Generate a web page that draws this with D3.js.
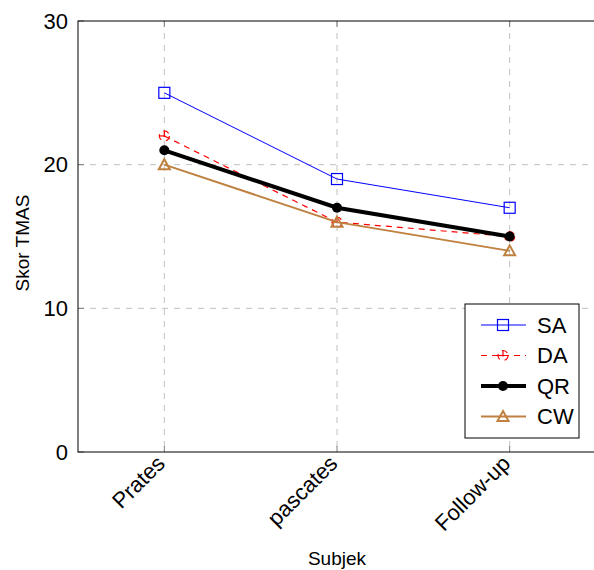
<!DOCTYPE html>
<html>
<head>
<meta charset="utf-8">
<script src="https://cdn.jsdelivr.net/npm/d3@7/dist/d3.min.js"></script>
<style>
  body { margin: 0; background: #fff; }
  svg { font-family: "Liberation Sans", Arial, sans-serif; }
</style>
</head>
<body>
<div id="chart"></div>
<script>
const categories = ["Prates", "pascates", "Follow-up"];
const yTicks = [0, 10, 20, 30];
const seriesNames = ["SA", "DA", "QR", "CW"];
const saValues = [25, 19, 17];
const daValues = [22, 16, 15];
const qrValues = [21, 17, 15];
const cwValues = [20, 16, 14];

const series = [
    { name: "SA", values: saValues, color: "#0000ff", width: 1, dash: null, marker: "square" },
    { name: "DA", values: daValues, color: "#ff0000", width: 1.2, dash: "6,5", marker: "oplus" },
    { name: "QR", values: qrValues, color: "#000000", width: 4, dash: null, marker: "dot" },
    { name: "CW", values: cwValues, color: "#bf8040", width: 2, dash: null, marker: "triangle" }
];

const W = 594, H = 570;
const margin = { top: 21, right: -2, bottom: 118, left: 78 };
const width = W - margin.left - margin.right,
    height = H - margin.top - margin.bottom;

const svg = d3.select("#chart").append("svg")
    .attr("width", W).attr("height", H);

const chart = svg.append("g")
    .attr("transform", `translate(${margin.left},${margin.top})`);

const x = d3.scalePoint().domain(categories).range([0, width]).padding(0.5);
const y = d3.scaleLinear().domain([0, 30]).range([height, 0]);

// grid
chart.selectAll(".vgrid").data(categories).enter().append("line")
    .attr("x1", d => x(d)).attr("x2", d => x(d))
    .attr("y1", 0).attr("y2", height)
    .attr("stroke", "#c0c0c0").attr("stroke-dasharray", "6,6");
chart.selectAll(".hgrid").data(yTicks.filter(t => t > 0 && t < 30)).enter().append("line")
    .attr("x1", 0).attr("x2", width)
    .attr("y1", d => y(d)).attr("y2", d => y(d))
    .attr("stroke", "#c0c0c0").attr("stroke-dasharray", "6,6");

// inner ticks
chart.selectAll(".tb").data(categories).enter().append("line")
    .attr("x1", d => x(d)).attr("x2", d => x(d))
    .attr("y1", height).attr("y2", height - 6)
    .attr("stroke", "#808080");
chart.selectAll(".tt").data(categories).enter().append("line")
    .attr("x1", d => x(d)).attr("x2", d => x(d))
    .attr("y1", 0).attr("y2", 6)
    .attr("stroke", "#808080");
chart.selectAll(".tl").data(yTicks).enter().append("line")
    .attr("x1", 0).attr("x2", 6)
    .attr("y1", d => y(d)).attr("y2", d => y(d))
    .attr("stroke", "#808080");

// frame
chart.append("rect")
    .attr("x", 0).attr("y", 0).attr("width", width).attr("height", height)
    .attr("fill", "none").attr("stroke", "#000").attr("stroke-width", 1);

// tick labels
chart.selectAll(".ylab").data(yTicks).enter().append("text")
    .attr("x", -10).attr("y", d => y(d)).attr("dy", "0.35em")
    .attr("text-anchor", "end").style("font-size", "22px")
    .text(d => d);

chart.selectAll(".xlab").data(categories).enter().append("text")
    .attr("transform", d => `translate(${x(d) - 9},${height + 2}) rotate(-45)`)
    .attr("text-anchor", "end").attr("dy", "0.7em")
    .style("font-size", "22px")
    .text(d => d);

// axis titles
svg.append("text")
    .attr("x", margin.left + x("pascates")).attr("y", 565)
    .attr("text-anchor", "middle").style("font-size", "19px")
    .text("Subjek");
svg.append("text")
    .attr("transform", `translate(29,243) rotate(-90)`)
    .attr("text-anchor", "middle").style("font-size", "19px")
    .text("Skor TMAS");

function drawMarker(g, type, color, cx, cy) {
    if (type === "square") {
        g.append("rect").attr("x", cx - 5.5).attr("y", cy - 5.5).attr("width", 11).attr("height", 11)
            .attr("fill", "none").attr("stroke", color).attr("stroke-width", 1.2);
    } else if (type === "oplus") {
        const m = g.append("g").attr("stroke", color).attr("fill", "none")
            .attr("stroke-width", 1.2).attr("stroke-dasharray", "6,5");
        m.append("circle").attr("cx", cx).attr("cy", cy).attr("r", 5);
        m.append("line").attr("x1", cx - 5).attr("x2", cx + 5).attr("y1", cy).attr("y2", cy);
        m.append("line").attr("x1", cx).attr("x2", cx).attr("y1", cy - 5).attr("y2", cy + 5);
    } else if (type === "dot") {
        g.append("circle").attr("cx", cx).attr("cy", cy).attr("r", 5).attr("fill", color);
    } else if (type === "triangle") {
        g.append("path")
            .attr("d", `M${cx},${cy - 5.5}L${cx + 5.5},${cy + 4.5}L${cx - 5.5},${cy + 4.5}Z`)
            .attr("fill", "none").attr("stroke", color).attr("stroke-width", 2);
    }
}

const line = d3.line().x((d, i) => x(categories[i])).y(d => y(d));

series.forEach(s => {
    const g = chart.append("g");
    g.append("path").datum(s.values)
        .attr("d", line)
        .attr("fill", "none").attr("stroke", s.color)
        .attr("stroke-width", s.width)
        .attr("stroke-dasharray", s.dash);
    s.values.forEach((v, i) => drawMarker(g, s.marker, s.color, x(categories[i]), y(v)));
});

// legend
const lg = svg.append("g").attr("transform", "translate(465,304)");
lg.append("rect").attr("width", 114).attr("height", 134)
    .attr("fill", "#fff").attr("stroke", "#000");
series.forEach((s, i) => {
    const cy = 21 + i * 30.5;
    lg.append("line").attr("x1", 16).attr("x2", 61).attr("y1", cy).attr("y2", cy)
        .attr("stroke", s.color).attr("stroke-width", s.width)
        .attr("stroke-dasharray", s.dash);
    drawMarker(lg, s.marker, s.color, 38, cy);
    lg.append("text").attr("x", 72).attr("y", cy).attr("dy", "0.35em")
        .style("font-size", "22px").text(s.name);
});
</script>
</body>
</html>
